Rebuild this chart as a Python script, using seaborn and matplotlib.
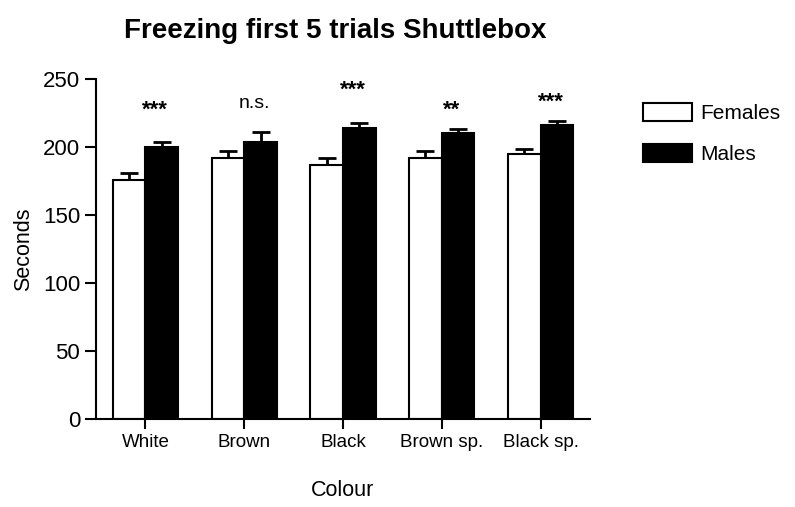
import numpy as np
import pandas as pd
import matplotlib
matplotlib.use("Agg")
import matplotlib.pyplot as plt
import seaborn as sns
from matplotlib.patches import Patch

categories = ["White", "Brown", "Black", "Brown sp.", "Black sp."]
groups = ["Females", "Males"]
females = [176, 192, 187, 192, 195]
males = [200, 204, 214, 210.5, 216.5]
females_err = [4.7, 5.4, 4.7, 5.0, 3.7]
males_err = [3.8, 7.3, 3.9, 2.7, 2.4]
sig_labels = ["***", "n.s.", "***", "**", "***"]
sig_y = [229, 232, 244, 229, 235]

sns.set_theme(style="ticks")
plt.rcParams['font.family'] = ['Liberation Sans', 'DejaVu Sans']
for k in ["text.color", "axes.labelcolor", "xtick.color", "ytick.color"]:
    plt.rcParams[k] = "black"

df = pd.DataFrame({
    "Colour": categories * 2,
    "Sex": [groups[0]] * 5 + [groups[1]] * 5,
    "Seconds": females + males,
})

fig = plt.figure(figsize=(7.95, 5.07), dpi=100)
ax = fig.add_axes([96/795, 1-419/507, (590-96)/795, (419-79)/507])

sns.barplot(data=df, x="Colour", y="Seconds", hue="Sex", order=categories,
            hue_order=groups, palette=["white", "black"], edgecolor="black",
            linewidth=1.5, width=0.66, errorbar=None, ax=ax, legend=False, saturation=1)

errs = females_err + males_err
vals = females + males
bars = [p for p in ax.patches][:10]
for p, v, e in zip(bars, vals, errs):
    xc = p.get_x() + p.get_width() / 2
    ax.errorbar(xc, v, yerr=[[0], [e]], fmt="none", ecolor="black",
                elinewidth=2, capsize=6.5, capthick=2, zorder=1)
    p.set_zorder(2)

for i, (lab, y) in enumerate(zip(sig_labels, sig_y)):
    star = lab != "n.s."
    ax.text(i + 0.1, y - (2 if star else 0), lab, ha="center", va="center",
            fontsize=16 if star else 14,
            fontweight="bold" if star else "normal",
            color="black")

ax.set_xlim(-0.5, 4.5)
ax.set_ylim(0, 250)
ax.set_yticks([0, 50, 100, 150, 200, 250])
ax.tick_params(axis="y", labelsize=16, length=8, width=1.5, direction="out", color="black")
ax.tick_params(axis="x", labelsize=13.5, length=7, width=1.5, direction="out", color="black")
for s in ["top", "right"]:
    ax.spines[s].set_visible(False)
for s in ["left", "bottom"]:
    ax.spines[s].set_linewidth(1.5)
    ax.spines[s].set_color("black")
ax.set_xlabel("Colour", fontsize=15.5, labelpad=21)
ax.set_ylabel("Seconds", fontsize=15.5, labelpad=6)
fig.suptitle("Freezing first 5 trials Shuttlebox", x=0.422, y=0.965,
             fontsize=20, fontweight="bold")

handles = [Patch(facecolor="white", edgecolor="black", linewidth=1.5),
           Patch(facecolor="black", edgecolor="black", linewidth=1.5)]
fig.legend(handles, groups, loc="upper left", bbox_to_anchor=(624/795, 1-84/507),
           frameon=False, fontsize=15, handlelength=2.35, handleheight=0.95,
           labelspacing=1.0, handletextpad=0.4)

fig.savefig("out.png", dpi=100)
